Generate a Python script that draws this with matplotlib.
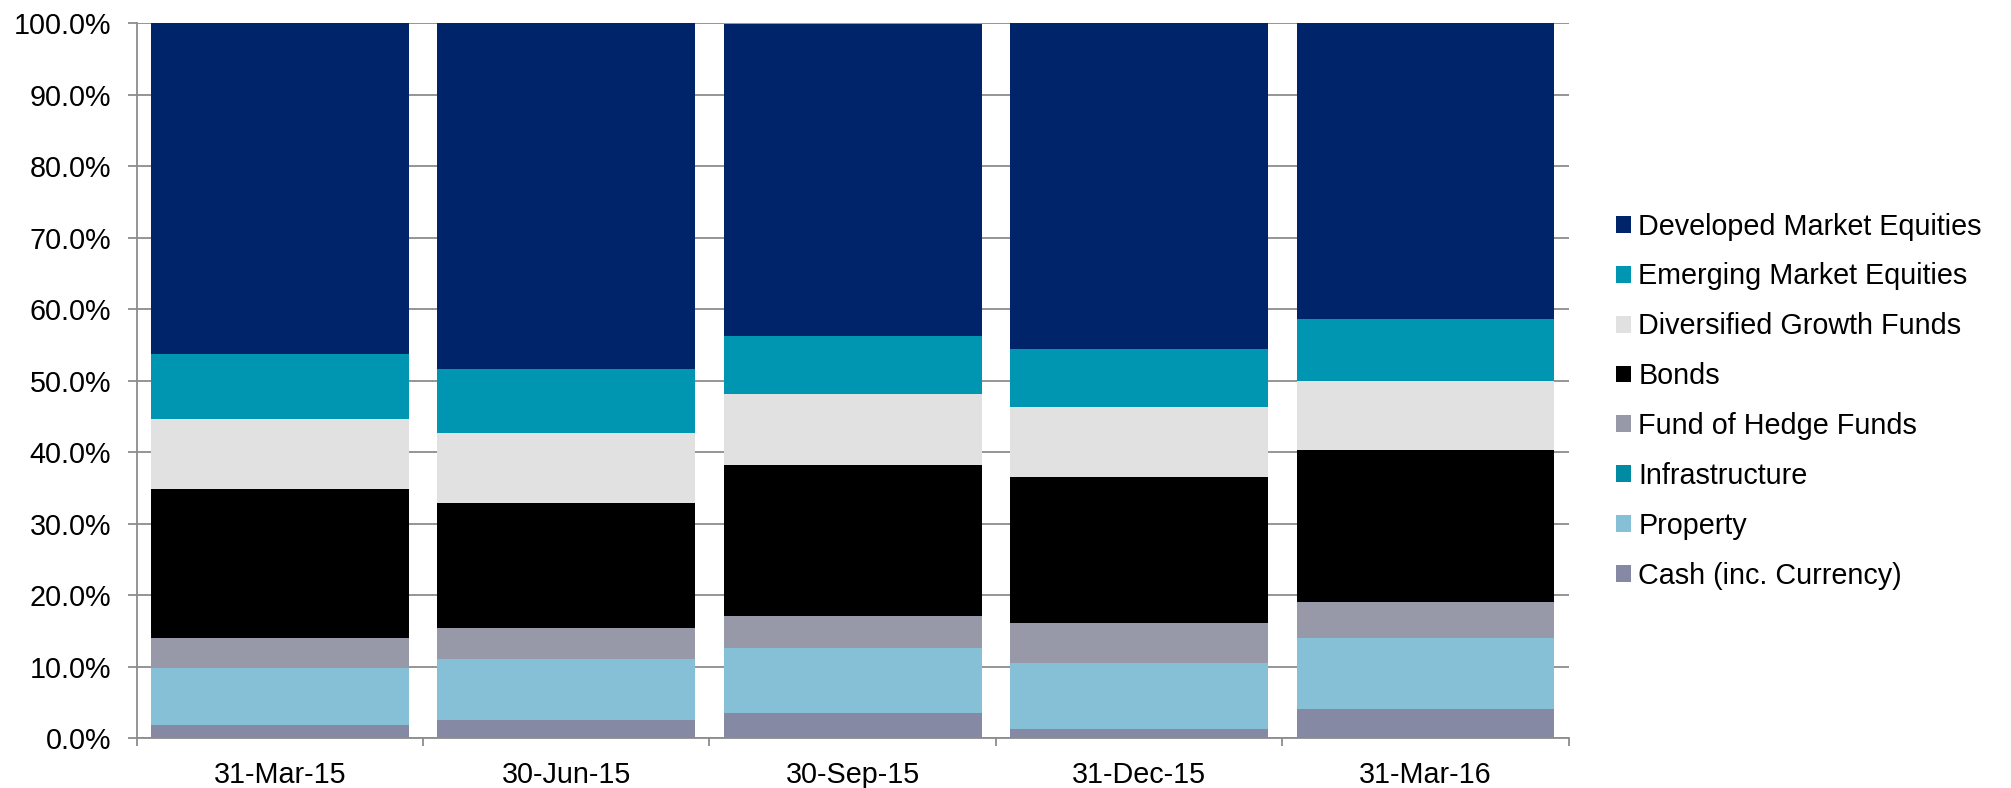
import matplotlib.pyplot as plt
from matplotlib.ticker import FuncFormatter, FixedLocator

plt.rcParams['font.family'] = ['Liberation Sans', 'DejaVu Sans']

# Asset allocation by quarter end (% of total)
dates = ['31-Mar-15', '30-Jun-15', '30-Sep-15', '31-Dec-15', '31-Mar-16']

cash = [1.8, 2.6, 3.6, 1.3, 4.1]
property_ = [8.1, 8.5, 9.1, 9.3, 9.9]
infrastructure = [0.0, 0.0, 0.0, 0.0, 0.0]
hedge_funds = [4.2, 4.3, 4.4, 5.5, 5.1]
bonds = [20.8, 17.5, 21.1, 20.4, 21.2]
dgf = [9.8, 9.8, 9.9, 9.8, 9.7]
emerging = [9.1, 8.9, 8.2, 8.2, 8.7]
developed = [46.2, 48.4, 43.6, 45.6, 41.3]

# bottom to top stacking order
series = [
    ('Cash (inc. Currency)', cash, '#8589a3'),
    ('Property', property_, '#86c0d6'),
    ('Infrastructure', infrastructure, '#008ba3'),
    ('Fund of Hedge Funds', hedge_funds, '#9799a8'),
    ('Bonds', bonds, '#000000'),
    ('Diversified Growth Funds', dgf, '#e1e1e1'),
    ('Emerging Market Equities', emerging, '#0096b1'),
    ('Developed Market Equities', developed, '#002469'),
]

fig = plt.figure(figsize=(20.11, 7.88), dpi=100)
ax = fig.add_axes([0.068, 0.063, 0.712, 0.9075])

x = range(len(dates))
bottom = [0.0] * len(dates)
bars = []
for name, vals, col in series:
    b = ax.bar(x, vals, width=0.9, bottom=bottom, color=col, label=name,
               linewidth=0)
    bars.append(b)
    bottom = [a + v for a, v in zip(bottom, vals)]

ax.set_xlim(-0.5, len(dates) - 0.5)
ax.set_ylim(0, 100)
ax.set_yticks(range(0, 101, 10))
ax.yaxis.set_major_formatter(FuncFormatter(lambda v, p: f'{v:.1f}%'))

ax.set_xticks(list(x))
ax.set_xticklabels(dates)
ax.xaxis.set_minor_locator(FixedLocator([i - 0.5 for i in range(len(dates) + 1)]))

grid_col = '#8c8c8c'
ax.set_axisbelow(True)
ax.yaxis.grid(True, color=grid_col, linewidth=1.3)
for s in ['top', 'right']:
    ax.spines[s].set_visible(False)
for s in ['left', 'bottom']:
    ax.spines[s].set_color(grid_col)
    ax.spines[s].set_linewidth(1.3)

fs = 20.7
ax.tick_params(axis='y', direction='out', length=6.5, width=1.3, color=grid_col,
               labelsize=fs, pad=12)
ax.tick_params(axis='x', which='major', length=0, labelsize=fs, pad=16)
ax.tick_params(axis='x', which='minor', direction='out', length=6, width=1.3,
               color=grid_col)

handles = [b.patches[0] for b in bars][::-1]
labels = [s[0] for s in series][::-1]
fig.legend(handles, labels, loc='center left', bbox_to_anchor=(0.8036, 0.491),
           frameon=False, fontsize=fs, handlelength=0.52, handleheight=0.52,
           handletextpad=0.25, labelspacing=0.76, borderpad=0, borderaxespad=0)

fig.savefig('out.png', dpi=100)
